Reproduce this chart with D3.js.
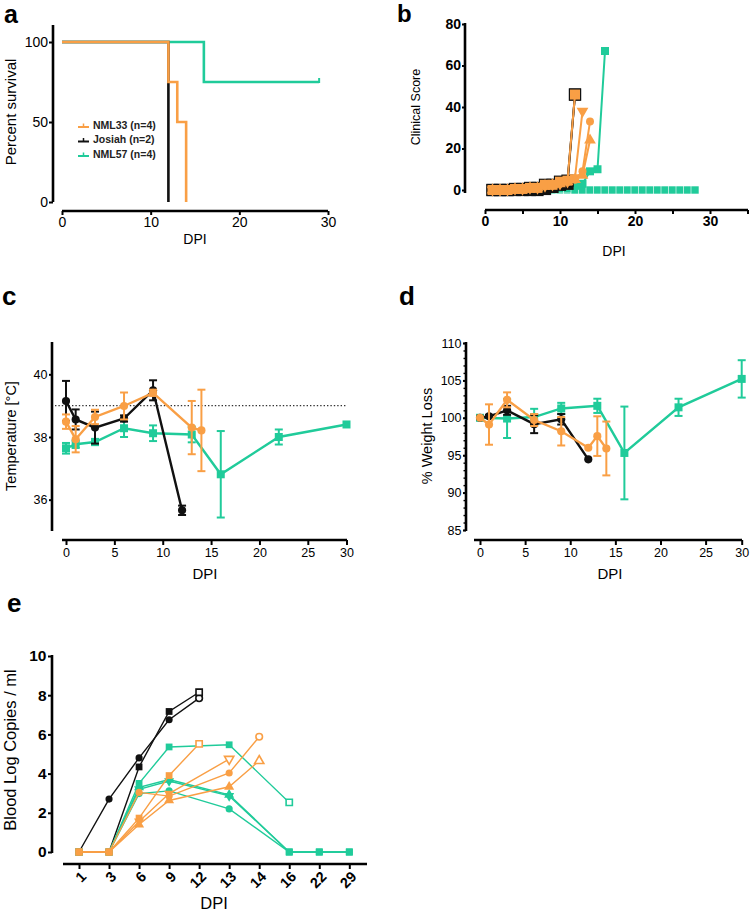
<!DOCTYPE html>
<html>
<head>
<meta charset="utf-8">
<script src="https://cdn.jsdelivr.net/npm/d3@7"></script>
<style>
  body { margin: 0; background: #fff; }
</style>
</head>
<body>
<div id="fig"></div>
<script>
// ---- panel a : survival (day, percent) ----
const survNML33 = [[0, 100], [12, 75], [13, 50], [14, 0]];
const survJosiah = [[0, 100], [12, 0]];
const survNML57 = [[0, 100], [16, 75], [29, 75]];
const legendNames = ["NML33 (n=4)", "Josiah (n=2)", "NML57 (n=4)"];

// ---- panel b : clinical score per animal ----
const csDays12 = [1, 2, 3, 4, 5, 6, 7, 8, 9, 10, 11, 12];
const csJosiahA = [0, 0, 0, 0, 0, 0, 0, 0.5, 1.5, 2.5, 3, 46];
const csJosiahB = [0, 0, 0, 0.5, 0.5, 1, 1, 2.5, 2.5, 4, 4.5, 46];
const csNml33Sq = [0, 0, 0, 0.5, 0.5, 1, 1, 2.5, 2.5, 4, 4.5, 46];
const csDays13 = [1, 2, 3, 4, 5, 6, 7, 8, 9, 10, 11, 12, 13];
const csNml33Down = [0, 0, 0, 0.5, 0.5, 1, 1, 2, 2.5, 3, 4, 6, 38];
const csDays14 = [1, 2, 3, 4, 5, 6, 7, 8, 9, 10, 11, 12, 13, 14];
const csNml33Circ = [0, 0, 0, 0.5, 0.5, 1, 1, 2, 2.5, 3, 4, 5, 9, 33];
const csNml33Up = [0, 0, 0, 0.5, 0.5, 1, 1, 2, 2.5, 3, 4, 5, 7, 24];
const csDays16 = [1, 2, 3, 4, 5, 6, 7, 8, 9, 10, 11, 12, 13, 14, 15, 16];
const csNml57Sick = [0, 0, 0, 0, 0, 0, 0.5, 1, 1, 1.5, 2, 2, 3, 9, 10, 67];
const csDays28 = [1, 2, 3, 4, 5, 6, 7, 8, 9, 10, 11, 12, 13, 14, 15, 16, 17, 18, 19, 20, 21, 22, 23, 24, 25, 26, 27, 28];
const csNml57WellA = [0, 0, 0, 0, 0, 0, 0, 0.5, 1, 1, 1, 1, 0, 0, 0, 0, 0, 0, 0, 0, 0, 0, 0, 0, 0, 0, 0, 0];
const csNml57WellB = [0, 0, 0, 0, 0, 0, 0, 0, 0, 0, 0, 0, 0, 0, 0, 0, 0, 0, 0, 0, 0, 0, 0, 0, 0, 0, 0, 0];
const csNml57WellC = [0, 0, 0, 0, 0, 0, 0, 0, 0.5, 0.5, 0.5, 0, 0, 0, 0, 0, 0, 0, 0, 0, 0, 0, 0, 0, 0, 0, 0, 0];

// ---- panel c : temperature mean / sd ----
const tempDaysJ = [0, 1, 3, 6, 9, 12];
const tempJ = [39.15, 38.56, 38.3, 38.59, 39.49, 35.66];
const tempJsd = [0.64, 0.32, 0.51, 0.1, 0.32, 0.15];
const tempDaysO = [0, 1, 3, 6, 9, 13, 14];
const tempO = [38.49, 37.93, 38.64, 38.99, 39.41, 38.3, 38.21];
const tempOsd = [0.23, 0.42, 0.23, 0.43, 0.1, 0.85, 1.3];
const tempDaysG = [0, 1, 3, 6, 9, 13, 16, 22, 29];
const tempG = [37.64, 37.77, 37.84, 38.28, 38.12, 38.08, 36.81, 38.0, 38.4];
const tempGsd = [0.17, 0.12, 0.1, 0.28, 0.25, 0.25, 1.38, 0.24, 0.05];
const feverLine = 39;

// ---- panel d : weight mean / sd ----
const wtDaysJ = [0, 1, 3, 6, 9, 12];
const wtJ = [100, 100.2, 101, 99.15, 99.8, 94.45];
const wtJsd = [0, 0.2, 0.6, 1.2, 0.7, 0];
const wtDaysO = [0, 1, 3, 6, 9, 12, 13, 14];
const wtO = [100, 99.1, 102.4, 99.7, 98.2, 96, 97.55, 95.9];
const wtOsd = [0, 2.7, 1.0, 0.8, 1.9, 0, 2.65, 3.6];
const wtDaysG = [0, 3, 6, 9, 13, 16, 22, 29];
const wtG = [100, 99.9, 100.1, 101.25, 101.6, 95.3, 101.4, 105.2];
const wtGsd = [0, 2.6, 1.1, 0.75, 0.95, 6.2, 1.15, 2.5];

// ---- panel e : blood viral load per animal ----
const dpiCats = ["1", "3", "6", "9", "12", "13", "14", "16", "22", "29"];
const vlDaysTo12 = ["1", "3", "6", "9", "12"];
const vlDaysTo13 = ["1", "3", "6", "9", "13"];
const vlDaysTo14 = ["1", "3", "6", "9", "13", "14"];
const vlDaysTo16 = ["1", "3", "6", "9", "13", "16"];
const vlDaysTo29 = ["1", "3", "6", "9", "13", "16", "22", "29"];
const vlJosiahCirc = [0, 2.7, 4.8, 6.75, 7.85];
const vlJosiahSq = [0, 0, 4.34, 7.17, 8.15];
const vlNml33Sq = [0, 0, 1.73, 3.9, 5.52];
const vlNml33Down = [0, 0, 1.56, 2.98, 4.74];
const vlNml33Circ = [0, 0, 3.04, 2.85, 4.03, 5.88];
const vlNml33Up = [0, 0, 1.4, 2.63, 3.33, 4.65];
const vlNml57Sq = [0, 0, 3.5, 5.36, 5.47, 2.53];
const vlNml57Circ = [0, 0, 2.98, 3.12, 2.2, 0, 0, 0];
const vlNml57Up = [0, 0, 3.3, 3.7, 2.92, 0, 0, 0];
const vlNml57Down = [0, 0, 3.2, 3.62, 2.86, 0, 0, 0];

const ORANGE = "#F99F45";
const GREEN = "#20CB9A";
const BLACK = "#111111";
const FONT = '"Liberation Sans", Arial, Helvetica, sans-serif';

const svg = d3.select("#fig").append("svg")
  .attr("width", 750).attr("height", 913)
  .style("font-family", FONT);

const symbols = {
  square: d3.symbolSquare,
  circle: d3.symbolCircle,
  up: d3.symbolTriangle,
  down: d3.symbolTriangle
};

function marker(g, x, y, shape, size, fill, stroke, sw) {
  g.append("path")
    .attr("d", d3.symbol(symbols[shape], size)())
    .attr("transform", `translate(${x},${y})${shape === "down" ? " rotate(180)" : ""}`)
    .attr("fill", fill)
    .attr("stroke", stroke || "none")
    .attr("stroke-width", sw || 0);
}

function styleAxis(g, size, bold) {
  g.select(".domain").remove();
  g.selectAll(".tick line").attr("stroke", "#000").attr("stroke-width", 2);
  g.selectAll(".tick text")
    .attr("fill", "#000")
    .style("font-family", FONT)
    .style("font-size", size + "px")
    .style("font-weight", bold ? "bold" : "normal");
  return g;
}

function axisLine(x1, y1, x2, y2) {
  svg.append("line")
    .attr("x1", x1).attr("y1", y1).attr("x2", x2).attr("y2", y2)
    .attr("stroke", "#000").attr("stroke-width", 2.6);
}

function label(x, y, txt, size, opts = {}) {
  const t = svg.append("text")
    .attr("x", x).attr("y", y)
    .attr("text-anchor", opts.anchor || "middle")
    .attr("dominant-baseline", opts.baseline || "middle")
    .style("font-size", size + "px")
    .style("font-weight", opts.bold ? "bold" : "normal")
    .attr("fill", opts.color || "#000")
    .text(txt);
  if (opts.rotate) t.attr("transform", `rotate(-90,${x},${y})`);
  return t;
}

// panel letters
label(4, 23, "a", 25, { bold: true, anchor: "start", baseline: "auto" });
label(397, 22, "b", 24, { bold: true, anchor: "start", baseline: "auto" });
label(2, 305, "c", 26, { bold: true, anchor: "start", baseline: "auto" });
label(399, 305, "d", 26, { bold: true, anchor: "start", baseline: "auto" });
label(7, 612, "e", 26, { bold: true, anchor: "start", baseline: "auto" });

// ================= panel a =================
{
  const x = d3.scaleLinear().domain([0, 30]).range([62, 328]);
  const y = d3.scaleLinear().domain([0, 110]).range([202, 26]);
  const g = svg.append("g");

  styleAxis(g.append("g").attr("transform", "translate(0,211)")
    .call(d3.axisBottom(x).tickValues([0, 10, 20, 30]).tickSize(4).tickPadding(2)), 14);
  styleAxis(g.append("g").attr("transform", "translate(53,0)")
    .call(d3.axisLeft(y).tickValues([0, 50, 100]).tickSize(4).tickPadding(1)), 14);
  axisLine(62, 211, 328, 211);
  axisLine(53, 25, 53, 202);

  const step = d3.line().x(d => x(d[0])).y(d => y(d[1])).curve(d3.curveStepAfter);
  [[survNML57, GREEN], [survJosiah, BLACK], [survNML33, ORANGE]].forEach(([s, c]) => {
    g.append("path").attr("d", step(s)).attr("fill", "none")
      .attr("stroke", c).attr("stroke-width", 2.6);
  });
  // censor tick at the end of the surviving group
  const last = survNML57[survNML57.length - 1];
  g.append("line").attr("x1", x(last[0])).attr("x2", x(last[0]))
    .attr("y1", y(last[1]) + 1).attr("y2", y(last[1]) - 4)
    .attr("stroke", GREEN).attr("stroke-width", 2);

  label(12, 112, "Percent survival", 15, { rotate: true });
  label(195, 240, "DPI", 14);

  const legColors = [ORANGE, BLACK, GREEN];
  legendNames.forEach((n, i) => {
    const ly = 126 + i * 14.5;
    g.append("line").attr("x1", 78).attr("x2", 89).attr("y1", ly + 1).attr("y2", ly + 1)
      .attr("stroke", legColors[i]).attr("stroke-width", 2);
    g.append("line").attr("x1", 83.5).attr("x2", 83.5).attr("y1", ly + 1).attr("y2", ly - 2.5)
      .attr("stroke", legColors[i]).attr("stroke-width", 1.5);
    label(93, ly, n, 10.5, { bold: true, anchor: "start", color: "#222" });
  });
}

// ================= panel b =================
{
  const x = d3.scaleLinear().domain([0, 35]).range([485, 747.5]);
  const y = d3.scaleLinear().domain([0, 80]).range([190, 24]);
  const g = svg.append("g");

  styleAxis(g.append("g").attr("transform", "translate(0,210)")
    .call(d3.axisBottom(x).tickValues([0, 5, 10, 15, 20, 25, 30, 35])
      .tickFormat(d => d % 10 === 0 ? d : "").tickSize(4).tickPadding(2)), 14, true);
  styleAxis(g.append("g").attr("transform", "translate(465,0)")
    .call(d3.axisLeft(y).tickValues([0, 20, 40, 60, 80]).tickSize(3).tickPadding(1)), 14, true);
  axisLine(485, 210, 748, 210);
  axisLine(465, 23, 465, 193);

  const series = [
    { days: csDays28, vals: csNml57WellA, color: GREEN, shape: "square", size: 64, edge: "#fff" },
    { days: csDays28, vals: csNml57WellB, color: GREEN, shape: "square", size: 64, edge: "#fff" },
    { days: csDays28, vals: csNml57WellC, color: GREEN, shape: "square", size: 64, edge: "#fff" },
    { days: csDays16, vals: csNml57Sick, color: GREEN, shape: "square", size: 64 },
    { days: csDays12, vals: csJosiahA, color: BLACK, shape: "square", size: 150 },
    { days: csDays12, vals: csJosiahB, color: BLACK, shape: "square", size: 150 },
    { days: csDays13, vals: csNml33Down, color: ORANGE, shape: "down", size: 60 },
    { days: csDays14, vals: csNml33Circ, color: ORANGE, shape: "circle", size: 50 },
    { days: csDays14, vals: csNml33Up, color: ORANGE, shape: "up", size: 60 },
    { days: csDays12, vals: csNml33Sq, color: ORANGE, shape: "square", size: 100 }
  ];
  const line = d3.line().x(d => x(d[0])).y(d => y(d[1]));
  series.forEach(s => {
    const pts = s.days.map((d, i) => [d, s.vals[i]]);
    g.append("path").attr("d", line(pts)).attr("fill", "none")
      .attr("stroke", s.color).attr("stroke-width", 2);
    pts.forEach(p => marker(g, x(p[0]), y(p[1]), s.shape, s.size, s.color,
      s.edge, s.edge ? 0.6 : 0));
  });

  label(417, 107, "Clinical Score", 12.5, { rotate: true });
  label(614, 252, "DPI", 14);
}

// ---- shared mean/sd drawing for c and d ----
function meanPanel(g, x, y, days, vals, sds, color, shape) {
  const pts = days.map((d, i) => ({ d, v: vals[i], s: sds[i] }));
  g.append("path")
    .attr("d", d3.line().x(p => x(p.d)).y(p => y(p.v))(pts))
    .attr("fill", "none").attr("stroke", color).attr("stroke-width", 2.4);
  pts.forEach(p => {
    if (p.s > 0.05) {
      const cx = x(p.d), y1 = y(p.v + p.s), y2 = y(p.v - p.s);
      g.append("line").attr("x1", cx).attr("x2", cx).attr("y1", y1).attr("y2", y2)
        .attr("stroke", color).attr("stroke-width", 2);
      [y1, y2].forEach(yy => g.append("line")
        .attr("x1", cx - 4).attr("x2", cx + 4).attr("y1", yy).attr("y2", yy)
        .attr("stroke", color).attr("stroke-width", 2));
    }
    marker(g, x(p.d), y(p.v), shape, shape === "square" ? 64 : 52, color);
  });
}

// ================= panel c =================
{
  const x = d3.scaleLinear().domain([0, 29]).range([66, 346.5]);
  const y = d3.scaleLinear().domain([35, 41]).range([531, 343]);
  const g = svg.append("g");

  styleAxis(g.append("g").attr("transform", "translate(0,540)")
    .call(d3.axisBottom(x).tickValues([0, 5, 10, 15, 20, 25, 29])
      .tickFormat(d => d === 29 ? "30" : d).tickSize(5).tickPadding(3)), 12.5);
  styleAxis(g.append("g").attr("transform", "translate(52,0)")
    .call(d3.axisLeft(y).tickValues([36, 38, 40]).tickFormat(d3.format("d"))
      .tickSize(3).tickPadding(1.5)), 12.5);
  axisLine(62, 540, 347, 540);
  axisLine(52, 342, 52, 531);

  g.append("line").attr("x1", 55).attr("x2", 347)
    .attr("y1", y(feverLine)).attr("y2", y(feverLine))
    .attr("stroke", "#333").attr("stroke-width", 1.1).attr("stroke-dasharray", "1.4 2");

  meanPanel(g, x, y, tempDaysG, tempG, tempGsd, GREEN, "square");
  meanPanel(g, x, y, tempDaysJ, tempJ, tempJsd, BLACK, "circle");
  meanPanel(g, x, y, tempDaysO, tempO, tempOsd, ORANGE, "circle");

  label(12, 436, "Temperature [°C]", 14.5, { rotate: true });
  label(205, 575, "DPI", 15);
}

// ================= panel d =================
{
  const x = d3.scaleLinear().domain([0, 29]).range([480, 741.7]);
  const y = d3.scaleLinear().domain([85, 110]).range([530, 343]);
  const g = svg.append("g");

  styleAxis(g.append("g").attr("transform", "translate(0,540)")
    .call(d3.axisBottom(x).tickValues([0, 5, 10, 15, 20, 25, 29])
      .tickFormat(d => d === 29 ? "30" : d).tickSize(5).tickPadding(3)), 12.5);
  styleAxis(g.append("g").attr("transform", "translate(466,0)")
    .call(d3.axisLeft(y).tickValues([85, 90, 95, 100, 105, 110]).tickSize(3).tickPadding(1.5)), 12.5);
  // minor ticks every 1 %
  g.append("g").attr("transform", "translate(466,0)")
    .call(d3.axisLeft(y).tickValues(d3.range(85, 111)).tickSize(2.5).tickFormat(""))
    .call(a => a.select(".domain").remove())
    .selectAll("line").attr("stroke", "#000").attr("stroke-width", 1.4);
  axisLine(474, 540, 742, 540);
  axisLine(466, 342, 466, 531);

  meanPanel(g, x, y, wtDaysG, wtG, wtGsd, GREEN, "square");
  meanPanel(g, x, y, wtDaysJ, wtJ, wtJsd, BLACK, "circle");
  meanPanel(g, x, y, wtDaysO, wtO, wtOsd, ORANGE, "circle");

  label(428, 436, "% Weight Loss", 14.5, { rotate: true });
  label(610, 575, "DPI", 15);
}

// ================= panel e =================
{
  const x = d3.scalePoint().domain(dpiCats).range([79, 349.3]);
  const y = d3.scaleLinear().domain([0, 10]).range([852, 656]);
  const g = svg.append("g");

  const ax = styleAxis(g.append("g").attr("transform", "translate(0,864)")
    .call(d3.axisBottom(x).tickSize(5)), 14.5, true);
  ax.selectAll(".tick text")
    .attr("x", 0).attr("y", 0).attr("dy", "0.35em")
    .attr("text-anchor", "end")
    .attr("transform", "translate(4,10) rotate(-45)");
  styleAxis(g.append("g").attr("transform", "translate(52,0)")
    .call(d3.axisLeft(y).tickValues([0, 2, 4, 6, 8, 10]).tickSize(4).tickPadding(1.5)), 15.5, true);
  axisLine(63, 864, 367, 864);
  axisLine(52, 655, 52, 853);

  const animals = [
    { days: vlDaysTo12, vals: vlJosiahCirc, color: BLACK, shape: "circle" },
    { days: vlDaysTo12, vals: vlJosiahSq, color: BLACK, shape: "square" },
    { days: vlDaysTo16, vals: vlNml57Sq, color: GREEN, shape: "square" },
    { days: vlDaysTo29, vals: vlNml57Circ, color: GREEN, shape: "circle" },
    { days: vlDaysTo29, vals: vlNml57Up, color: GREEN, shape: "up" },
    { days: vlDaysTo29, vals: vlNml57Down, color: GREEN, shape: "down" },
    { days: vlDaysTo12, vals: vlNml33Sq, color: ORANGE, shape: "square" },
    { days: vlDaysTo13, vals: vlNml33Down, color: ORANGE, shape: "down" },
    { days: vlDaysTo14, vals: vlNml33Circ, color: ORANGE, shape: "circle" },
    { days: vlDaysTo14, vals: vlNml33Up, color: ORANGE, shape: "up" }
  ];
  const line = d3.line().x(d => x(d[0])).y(d => y(d[1]));
  animals.forEach(a => {
    const pts = a.days.map((d, i) => [d, a.vals[i]]);
    g.append("path").attr("d", line(pts)).attr("fill", "none")
      .attr("stroke", a.color).attr("stroke-width", 1.4);
    const died = a.days[a.days.length - 1] !== "29";
    pts.forEach((p, i) => {
      const shape = p[1] === 0 ? "square" : a.shape;
      const size = shape === "square" ? 46 : shape === "circle" ? 40 : 44;
      if (died && i === pts.length - 1) {
        marker(g, x(p[0]), y(p[1]), shape, size * 0.85, "#fff", a.color, 1.6);
      } else {
        marker(g, x(p[0]), y(p[1]), shape, size, a.color);
      }
    });
  });

  label(12, 750, "Blood Log Copies / ml", 16.5, { rotate: true });
  label(214, 905, "DPI", 16.5);
}
</script>
</body>
</html>
